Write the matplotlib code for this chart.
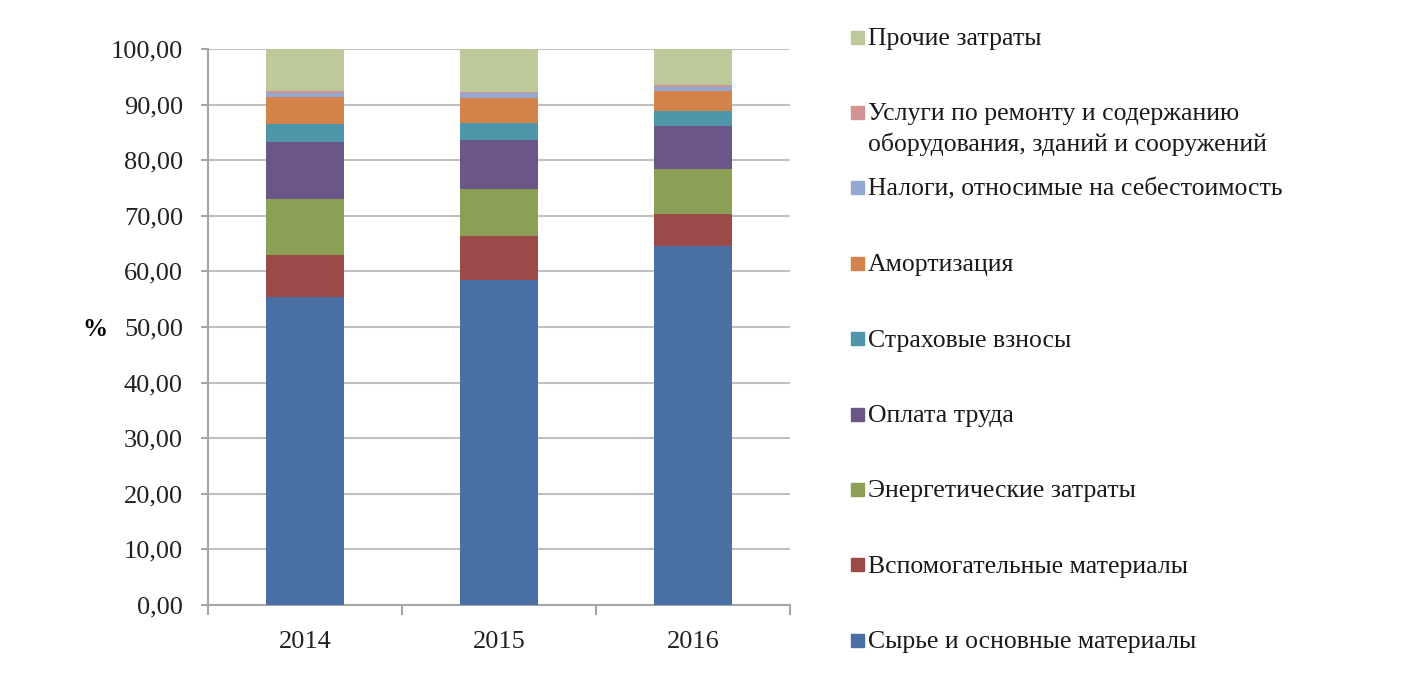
import matplotlib
matplotlib.use("Agg")
import numpy as np
from matplotlib import pyplot as plt
from matplotlib.patches import Rectangle
from matplotlib.ticker import FuncFormatter

years = ["2014", "2015", "2016"]

series_names = [
    "Сырье и основные материалы",
    "Вспомогательные материалы",
    "Энергетические затраты",
    "Оплата труда",
    "Страховые взносы",
    "Амортизация",
    "Налоги, относимые на себестоимость",
    "Услуги по ремонту и содержанию\nоборудования, зданий и сооружений",
    "Прочие затраты",
]

raw_materials = [55.4, 58.5, 64.6]
aux_materials = [7.5, 7.9, 5.8]
energy = [10.2, 8.4, 8.1]
labor = [10.1, 8.8, 7.7]
insurance = [3.3, 3.1, 2.6]
amortization = [4.8, 4.4, 3.6]
taxes = [0.8, 0.9, 0.8]
repairs = [0.4, 0.3, 0.3]
other = [7.5, 7.7, 6.5]

colors = ["#4a6fa5", "#9c4a47", "#8ba054", "#6b5688", "#5096aa",
          "#d2844a", "#95a8d0", "#d09494", "#bdc99a"]

plt.rcParams["font.family"] = ["Liberation Serif", "DejaVu Serif"]


def main():
    values = [raw_materials, aux_materials, energy, labor, insurance,
              amortization, taxes, repairs, other]

    fig = plt.figure(figsize=(14.14, 6.94), dpi=100)
    ax = fig.add_axes([208 / 1414, 1 - 605 / 694, 582 / 1414, 556 / 694])

    x = np.arange(len(years))
    bottom = np.zeros(len(years))
    for vals, col in zip(values, colors):
        ax.bar(x, vals, width=0.4, bottom=bottom, color=col, zorder=3)
        bottom += np.array(vals)

    ax.set_xlim(-0.5, 2.5)
    ax.set_ylim(0, 100)
    ax.set_yticks(np.arange(0, 101, 10))
    ax.yaxis.set_major_formatter(FuncFormatter(lambda v, p: f"{v:.2f}".replace(".", ",")))
    ax.set_xticks(x)
    ax.set_xticklabels(years)
    ax.set_xticks([-0.5, 0.5, 1.5, 2.5], minor=True)
    ax.tick_params(axis="x", which="major", length=0, pad=19, labelsize=19, labelcolor="#222222")
    ax.tick_params(axis="x", which="minor", length=7, color="#a6a6a6", width=1.5)
    ax.tick_params(axis="y", length=5, color="#a6a6a6", width=1.5, pad=13, labelsize=19,
                   labelcolor="#222222")
    ax.grid(axis="y", color="#c0c0c0", linewidth=1.5, zorder=0)
    for side in ["top", "right"]:
        ax.spines[side].set_visible(False)
    for side in ["left", "bottom"]:
        ax.spines[side].set_color("#a6a6a6")
        ax.spines[side].set_linewidth(1.5)
    ax.set_ylabel("%", rotation=0, fontsize=18, fontweight="bold", va="center", ha="center")
    ax.yaxis.set_label_coords(-0.194, 0.495)

    # legend drawn by hand, top entry first, one even slot per series;
    # first text line sits level with its colour square
    for i, (name, col) in enumerate(zip(series_names[::-1], colors[::-1])):
        ypx = 37 + i * 75.4
        fig.patches.append(Rectangle((851 / 1414, 1 - (ypx + 6.5) / 694), 13 / 1414, 13 / 694,
                                     transform=fig.transFigure, color=col))
        fig.text(868 / 1414, 1 - (ypx - 9) / 694, name, fontsize=18.5, va="top",
                 ha="left", linespacing=1.4, color="#1a1a1a")

    fig.savefig("out.png", dpi=100)


if __name__ == "__main__":
    main()
